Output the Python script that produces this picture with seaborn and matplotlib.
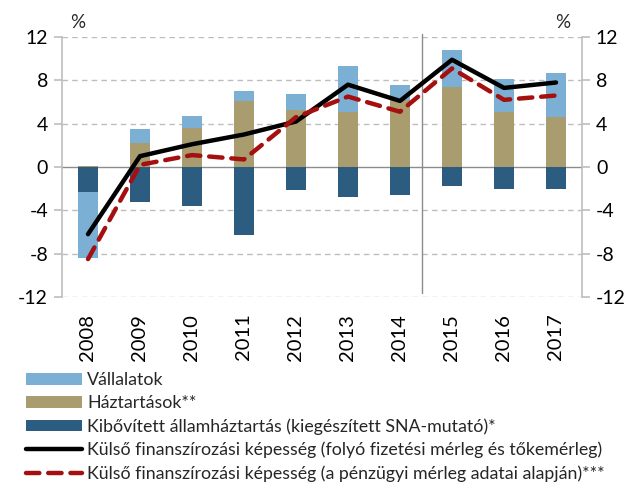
import numpy as np
import pandas as pd
import matplotlib
matplotlib.use("Agg")
import matplotlib.pyplot as plt
from matplotlib.patches import Patch
from matplotlib.lines import Line2D
import seaborn as sns

years = ["2008", "2009", "2010", "2011", "2012", "2013", "2014", "2015", "2016", "2017"]
vallalatok = [-6.1, 1.3, 1.1, 0.9, 1.4, 4.2, 1.4, 3.4, 3.0, 4.1]
haztartasok = [0.1, 2.2, 3.6, 6.1, 5.3, 5.1, 6.2, 7.4, 5.1, 4.6]
allamhaztartas = [-2.3, -3.2, -3.6, -6.3, -2.1, -2.8, -2.6, -1.75, -2.05, -2.0]
kulso_fm = [-6.2, 1.0, 2.1, 3.0, 4.2, 7.6, 6.1, 9.9, 7.3, 7.8]
kulso_pm = [-8.5, 0.2, 1.1, 0.7, 4.6, 6.5, 5.1, 9.1, 6.2, 6.6]

labels = [
    "Vállalatok",
    "Háztartások**",
    "Kibővített államháztartás (kiegészített SNA-mutató)*",
    "Külső finanszírozási képesség (folyó fizetési mérleg és tőkemérleg)",
    "Külső finanszírozási képesség (a pénzügyi mérleg adatai alapján)***",
]
yticks = [-12, -8, -4, 0, 4, 8, 12]

c_corp = "#7BAFD4"
c_hh = "#A99D6F"
c_gov = "#2C5C7F"
c_red = "#A50F0F"

sns.set_theme(style="white")
plt.rcParams["font.family"] = ["Lato", "DejaVu Sans"]

df = pd.DataFrame({
    "year": years,
    "corp": vallalatok,
    "hh": haztartasok,
    "gov": allamhaztartas,
    "fm": kulso_fm,
    "pm": kulso_pm,
})
df["idx"] = np.arange(len(df))
# corporate bars stack on households when positive, below government when negative
df["corp_bottom"] = np.where(df["corp"] >= 0, df["hh"], df["gov"])

fig = plt.figure(figsize=(6.35, 4.82), dpi=100)
ax = fig.add_axes([62 / 635, 1 - 297 / 482, 520 / 635, 260 / 482])

bw = 0.4
sns.barplot(data=df, x="year", y="hh", color=c_hh, width=bw, ax=ax,
            saturation=1, edgecolor="none", linewidth=0)
sns.barplot(data=df, x="year", y="gov", color=c_gov, width=bw, ax=ax,
            saturation=1, edgecolor="none", linewidth=0)
sns.barplot(data=df, x="year", y="corp", bottom=df["corp_bottom"], color=c_corp,
            width=bw, ax=ax, saturation=1, edgecolor="none", linewidth=0)

sns.lineplot(data=df, x="idx", y="fm", color="black", linewidth=3.2, ax=ax,
             solid_capstyle="round", solid_joinstyle="round")
sns.lineplot(data=df, x="idx", y="pm", color=c_red, linewidth=3.2, ax=ax,
             dashes=False, linestyle=(0, (3, 2)), dash_capstyle="round")

ax.set_xlim(-0.5, len(years) - 0.5)
ax.set_ylim(-12, 12)
ax.set_yticks(yticks)
ax.set_yticklabels([str(t) for t in yticks])
ax.set_xlabel("")
ax.set_ylabel("")

for t in yticks:
    if t == 0:
        ax.axhline(0, color="#8C8C8C", linewidth=1.0, zorder=0.5)
    else:
        ax.axhline(t, color="#BDBDBD", linewidth=1.0, linestyle=(0, (4, 3)), zorder=0.5)

ax.plot([6.43, 6.43], [-11.6, 12.3], color="#8C8C8C", linewidth=1.0,
        clip_on=False, zorder=0.6)

for side in ["top", "bottom"]:
    ax.spines[side].set_visible(False)
for side in ["left", "right"]:
    ax.spines[side].set_color("#BDBDBD")
    ax.spines[side].set_linewidth(1.2)

ax.tick_params(axis="y", which="both", left=True, right=True, labelleft=True,
               labelright=True, length=6, width=1.2, color="#BDBDBD",
               labelsize=14, labelcolor="black", pad=4)
ax.tick_params(axis="x", bottom=False, labelsize=14.5, labelcolor="black",
               rotation=90, pad=6)

fig.text(78 / 635, 1 - 22 / 482, "%", fontsize=13.5, ha="center", va="center")
fig.text(563 / 635, 1 - 22 / 482, "%", fontsize=13.5, ha="center", va="center")

handles = [
    Patch(facecolor=c_corp, edgecolor="none"),
    Patch(facecolor=c_hh, edgecolor="none"),
    Patch(facecolor=c_gov, edgecolor="none"),
    Line2D([], [], color="black", linewidth=3.2, solid_capstyle="round"),
    Line2D([], [], color=c_red, linewidth=3.2, linestyle=(0, (3, 2)),
           dash_capstyle="round"),
]
fig.legend(handles, labels, loc="upper left", bbox_to_anchor=(26 / 635, 1 - 372 / 482),
           frameon=False, fontsize=12.8, handlelength=3.15, handleheight=0.65,
           handletextpad=0.3, labelspacing=0.4, borderaxespad=0, borderpad=0)

fig.savefig("out.png", dpi=100)
